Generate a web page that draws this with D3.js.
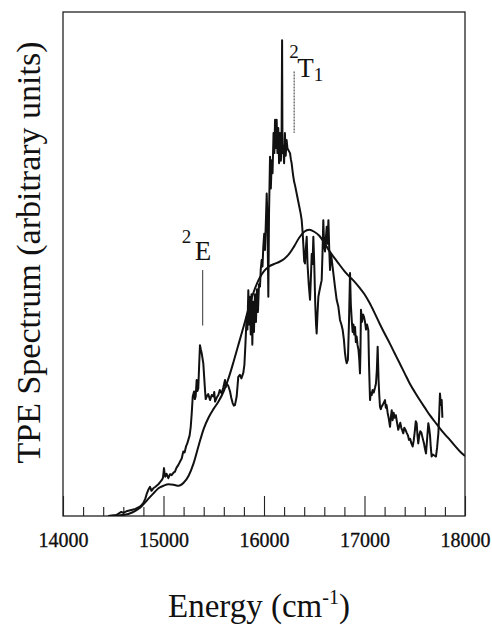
<!DOCTYPE html>
<html>
<head>
<meta charset="utf-8">
<script src="https://cdn.jsdelivr.net/npm/d3@7"></script>
<style>
  html, body { margin: 0; padding: 0; background: #fff; }
  svg { display: block; }
  svg text { font-family: "Liberation Serif", "Times New Roman", serif !important; fill: #111; }
</style>
</head>
<body>
<svg id="chart" width="492" height="625"></svg>
<script>
// ---- data ----
const xDomain = [14000, 18000];
const yDomain = [0, 100];
const majorTicks = [14000, 15000, 16000, 17000, 18000];
const majorTickLabels = ["14000", "15000", "16000", "17000", "18000"];
const minorTicks = [14200, 14400, 14600, 14800, 15200, 15400, 15600, 15800,
                    16200, 16400, 16600, 16800, 17200, 17400, 17600, 17800];

// experimental TPE spectrum: energy (cm-1)
const specEnergy = [14450,14530,14580,14600,14640,14680,14720,14760,14783,14800,14820,14835,14849,14866,14880,14899,14920,14949,14970,14982,14995,15005,15012,15018,15030,15048,15065,15081,15100,15114,15130,15147,15165,15181,15197,15210,15224,15235,15247,15260,15271,15281,15291,15304,15312,15320,15330,15338,15346,15355,15363,15372,15380,15396,15405,15413,15420,15430,15445,15463,15480,15496,15505,15513,15530,15546,15560,15579,15595,15612,15620,15629,15645,15662,15675,15688,15700,15711,15728,15744,15760,15775,15794,15805,15815,15827,15835,15844,15852,15860,15868,15876,15884,15892,15900,15910,15920,15930,15940,15950,15960,15968,15977,15985,15993,16002,16010,16018,16027,16035,16043,16050,16060,16068,16077,16085,16095,16103,16110,16118,16126,16134,16142,16150,16159,16168,16175,16180,16184,16192,16200,16208,16216,16225,16233,16242,16259,16267,16275,16284,16292,16300,16310,16325,16340,16351,16365,16375,16385,16391,16400,16408,16416,16425,16433,16445,16458,16466,16475,16483,16491,16500,16510,16518,16524,16532,16541,16550,16560,16574,16582,16590,16598,16607,16615,16624,16632,16641,16649,16657,16665,16673,16690,16706,16723,16740,16756,16770,16783,16795,16806,16815,16823,16835,16845,16856,16864,16873,16882,16890,16898,16906,16914,16922,16930,16940,16948,16955,16960,16965,16975,16985,16995,17005,17015,17025,17038,17045,17055,17063,17072,17080,17092,17105,17114,17123,17131,17140,17147,17154,17162,17170,17180,17192,17204,17212,17220,17230,17240,17254,17262,17271,17280,17290,17300,17312,17324,17336,17346,17356,17366,17376,17386,17396,17410,17420,17432,17443,17455,17465,17479,17490,17502,17510,17519,17527,17535,17545,17555,17565,17578,17592,17600,17612,17622,17635,17643,17652,17660,17668,17680,17695,17711,17722,17735,17743,17751,17760,17768,17775];
// experimental TPE spectrum: intensity (arbitrary units)
const specIntensity = [0.0,0.2,0.8,0.6,1.0,1.2,1.4,1.8,2.2,2.6,3.5,4.5,5.2,5.8,5.0,5.5,5.8,6.3,6.8,7.1,7.6,9.5,8.2,7.8,8.4,7.5,8.3,8.1,8.6,8.8,9.6,10.1,10.8,11.4,12.8,12.6,13.8,14.3,15.1,16.0,17.7,20.4,23.7,24.7,23.2,23.7,27.0,24.8,25.3,30.0,33.9,33.0,32.3,30.3,27.5,25.0,23.2,23.7,24.2,23.0,24.0,23.7,24.6,22.7,23.5,24.0,25.0,24.3,25.5,27.0,25.6,26.3,25.8,24.7,23.4,22.4,21.9,22.0,23.7,27.6,28.0,27.3,28.4,30.0,34.0,39.5,37.0,44.8,38.0,43.5,36.0,44.0,34.0,42.5,36.5,44.0,38.5,45.0,40.5,46.0,45.5,49.0,50.8,49.5,53.4,56.0,52.8,58.0,64.0,58.0,43.5,60.0,71.3,65.0,70.6,68.0,76.0,72.0,78.6,73.0,78.6,72.0,77.0,70.0,76.0,70.5,75.0,94.4,72.0,73.5,70.0,76.0,71.5,74.6,73.0,72.6,72.0,70.8,70.0,68.5,67.3,66.3,65.5,64.0,62.5,61.4,60.0,58.7,56.1,54.0,50.5,50.1,53.0,55.4,50.0,46.0,42.9,47.0,52.0,50.0,55.4,50.0,42.0,38.0,36.2,40.0,43.5,44.5,45.5,46.8,52.0,58.7,54.0,52.5,55.0,57.4,54.0,58.7,53.0,48.8,52.0,51.0,48.2,45.5,42.9,41.5,38.9,38.0,36.9,35.0,32.3,31.0,30.3,31.0,38.0,48.2,42.0,38.9,36.5,38.0,36.0,37.5,34.5,35.6,34.0,33.0,31.0,28.3,33.0,40.9,38.5,40.0,39.5,38.5,37.0,38.0,36.9,30.0,23.0,24.5,24.0,25.0,24.5,25.5,26.3,29.0,33.6,27.0,24.0,21.7,21.2,21.7,22.0,22.5,23.0,21.5,22.0,20.5,19.5,17.7,19.5,21.0,19.0,20.5,19.5,20.0,18.5,17.1,17.8,18.5,17.5,17.0,16.4,17.5,17.0,16.5,16.0,15.1,15.3,14.5,13.8,15.0,17.1,18.8,18.4,16.0,14.4,16.0,16.8,16.6,15.5,14.4,13.5,12.4,15.0,18.4,17.5,16.0,13.5,11.8,12.2,12.0,11.8,13.5,16.4,20.0,24.3,22.0,23.0,19.5];

// calculated (smooth) spectrum
const calcEnergy = [14450,14550,14650,14720,14780,14840,14900,14950,15000,15050,15100,15150,15200,15250,15300,15350,15400,15450,15500,15550,15600,15650,15700,15750,15800,15850,15900,15950,16000,16050,16100,16150,16200,16250,16300,16350,16400,16450,16500,16550,16600,16650,16700,16750,16800,16850,16900,16950,17000,17050,17100,17150,17200,17250,17300,17350,17400,17450,17500,17550,17600,17650,17700,17750,17800,17850,17900,17950,18000];
const calcIntensity = [0,0.1,0.4,1.0,1.9,3.2,4.5,5.5,6.0,6.3,6.2,6.0,6.6,8.0,10.5,14.0,17.3,19.6,21.3,22.8,24.8,27.5,30.8,34.3,37.8,41.4,44.6,47.0,48.6,49.5,50.0,50.4,51.0,52.0,53.5,55.2,56.4,56.8,56.4,55.6,54.2,52.6,51.2,49.9,48.6,47.5,46.5,45.3,44.0,42.3,40.3,38.2,36.2,34.3,32.3,30.3,28.3,26.3,24.6,23.0,21.5,20.0,18.7,17.4,16.2,15.1,13.9,12.8,11.9];

// band assignments: energy, marker top/bottom intensity
const bandNames = ["E", "T"];
const bandSup = ["2", "2"];
const bandSub = ["", "1"];
const bandEnergy = [15390, 16300];
const bandMarkTop = [48.8, 88.2];
const bandMarkBottom = [37.8, 76.0];

// ---- drawing ----
const svg = d3.select("#chart");
const margin = {left: 63, right: 27, top: 12, bottom: 109};
const W = 492, H = 625;
const x = d3.scaleLinear().domain(xDomain).range([margin.left, W - margin.right]);
const y = d3.scaleLinear().domain(yDomain).range([H - margin.bottom, margin.top]);

// minor ticks (inward)
svg.append("g")
  .attr("transform", `translate(0,${y(0)})`)
  .call(d3.axisBottom(x).tickValues(minorTicks).tickSize(-9).tickFormat(""))
  .call(g => g.select(".domain").remove())
  .call(g => g.selectAll("line").attr("stroke", "#222").attr("stroke-width", 1.1));

// major ticks with labels
svg.append("g")
  .attr("transform", `translate(0,${y(0)})`)
  .attr("font-family", null)
  .call(d3.axisBottom(x).tickValues(majorTicks).tickSize(-20).tickPadding(17)
        .tickFormat((d, i) => majorTickLabels[i]))
  .call(g => g.attr("font-family", "Liberation Serif"))
  .call(g => g.select(".domain").remove())
  .call(g => g.selectAll("line").attr("stroke", "#222").attr("stroke-width", 1.1))
  .call(g => g.selectAll("text")
      .style("font-family", '"Liberation Serif", serif')
      .attr("font-size", 20)
      .attr("fill", "#000")
      .attr("stroke", "#000").attr("stroke-width", 0.3));

// frame
svg.append("rect")
  .attr("x", x(xDomain[0])).attr("y", y(yDomain[1]))
  .attr("width", x(xDomain[1]) - x(xDomain[0]))
  .attr("height", y(yDomain[0]) - y(yDomain[1]))
  .attr("fill", "none").attr("stroke", "#222").attr("stroke-width", 1.3);

// clip
svg.append("clipPath").attr("id", "clip")
  .append("rect")
  .attr("x", x(xDomain[0])).attr("y", y(yDomain[1]))
  .attr("width", x(xDomain[1]) - x(xDomain[0]))
  .attr("height", y(yDomain[0]) - y(yDomain[1]));

const calcData = calcEnergy.map((e, i) => [e, calcIntensity[i]]);
const specData = specEnergy.map((e, i) => [e, specIntensity[i]]);

svg.append("path")
  .datum(calcData)
  .attr("clip-path", "url(#clip)")
  .attr("fill", "none").attr("stroke", "#111").attr("stroke-width", 2)
  .attr("d", d3.line().x(d => x(d[0])).y(d => y(d[1])).curve(d3.curveMonotoneX));

svg.append("path")
  .datum(specData)
  .attr("clip-path", "url(#clip)")
  .attr("fill", "none").attr("stroke", "#111").attr("stroke-width", 2)
  .attr("stroke-linejoin", "round")
  .attr("d", d3.line().x(d => x(d[0])).y(d => y(d[1])));

// band markers
bandEnergy.forEach((e, i) => {
  svg.append("line")
    .attr("x1", x(e)).attr("x2", x(e))
    .attr("y1", y(bandMarkTop[i])).attr("y2", y(bandMarkBottom[i]))
    .attr("stroke", "#333").attr("stroke-width", 1)
    .attr("stroke-dasharray", i === 1 ? "2,1" : null);
});

// 2E label
const xE = x(bandEnergy[0]), yE = y(bandMarkTop[0]);
const tE = svg.append("text").attr("font-size", 27);
tE.append("tspan").attr("x", xE - 21).attr("y", yE - 27).attr("font-size", 19).text(bandSup[0]);
tE.append("tspan").attr("x", xE - 8).attr("y", yE - 10).text(bandNames[0]);

// 2T1 label
const xT = x(bandEnergy[1]), yT = y(bandMarkTop[1]);
const tT = svg.append("text").attr("font-size", 27);
tT.append("tspan").attr("x", xT - 5).attr("y", yT - 13).attr("font-size", 19).text(bandSup[1]);
tT.append("tspan").attr("x", xT + 3).attr("y", yT + 6).text(bandNames[1]);
tT.append("tspan").attr("y", yT + 10).attr("font-size", 19).text(bandSub[1]);

// axis titles
const xt = svg.append("text")
  .attr("x", 168).attr("y", 617)
  .attr("font-size", 33);
xt.append("tspan").text("Energy (cm");
xt.append("tspan").attr("font-size", 20).attr("dy", -13).text("-1");
xt.append("tspan").attr("dy", 13).text(")");

svg.append("text")
  .attr("transform", `translate(40,${(40 + 465) / 2}) rotate(-90)`)
  .attr("text-anchor", "middle")
  .attr("font-size", 34)
  .text("TPE Spectrum (arbitrary units)");
</script>
</body>
</html>
